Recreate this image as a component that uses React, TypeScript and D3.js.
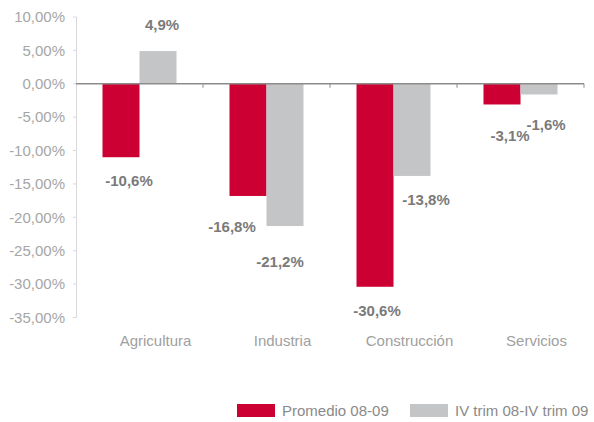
import * as d3 from "d3";

const categories = ["Agricultura", "Industria", "Construcción", "Servicios"];
const seriesNames = ["Promedio 08-09", "IV trim 08-IV trim 09"];
// bar lengths
const promedio = [-11.0, -16.8, -30.4, -3.1];
const ivTrim = [4.9, -21.3, -13.8, -1.6];
// printed data labels
const promedioLabels = ["-10,6%", "-16,8%", "-30,6%", "-3,1%"];
const ivTrimLabels = ["4,9%", "-21,2%", "-13,8%", "-1,6%"];
const yTicks = [10, 5, 0, -5, -10, -15, -20, -25, -30, -35];

const colors = ["#cc0033", "#c4c5c7"];
// hand placed label nudges (dx, dy) per series / category, as in the original
const labelNudges = [
  [[8, -4], [-16, 3], [2, -4], [8, 4]],
  [[4, 0], [-5, 8], [14, -4], [7, 3]],
];

const W = 594;
const H = 422;
const FONT = "'Liberation Sans', Arial, sans-serif";

const fmtTick = (v: number) => `${v.toFixed(2).replace(".", ",")}%`;

export default function App() {
  const y = d3.scaleLinear().domain([-35, 10]).range([317.5, 17]);
  const x = d3.scaleBand<string>().domain(categories).range([76, 584]).paddingInner(0).paddingOuter(0);
  const inner = d3.scaleBand<string>().domain(seriesNames).range([0, 74]);
  const offset = (x.bandwidth() - 74) / 2;
  const values = [promedio, ivTrim];
  const labels = [promedioLabels, ivTrimLabels];

  return (
    <svg
      width={W}
      height={H}
      style={{ position: "absolute", left: 0, top: 0, background: "white", fontFamily: FONT }}
    >
      {/* left axis */}
      <line x1={76.5} x2={76.5} y1={y(10)} y2={y(-35)} stroke="#d9d9d9" />
      {yTicks.map((t) => (
        <g key={t}>
          <line x1={73} x2={76.5} y1={y(t)} y2={y(t)} stroke="#d9d9d9" />
          <text
            x={65}
            y={y(t)}
            dy="0.35em"
            textAnchor="end"
            fontSize={15}
            fill="#a6a6a6"
          >
            {fmtTick(t)}
          </text>
        </g>
      ))}

      {/* bars */}
      {values.map((vals, s) =>
        vals.map((v, i) => {
          const bx = (x(categories[i]) ?? 0) + offset + (inner(seriesNames[s]) ?? 0);
          return (
            <rect
              key={`${s}-${i}`}
              x={bx}
              y={Math.min(y(v), y(0))}
              width={inner.bandwidth()}
              height={Math.abs(y(v) - y(0))}
              fill={colors[s]}
            />
          );
        })
      )}

      {/* zero line */}
      <line x1={76} x2={584} y1={y(0)} y2={y(0)} stroke="#8c8c8c" strokeWidth={1.6} />
      {categories.map((c) => (
        <line
          key={c}
          x1={(x(c) ?? 0) + x.bandwidth()}
          x2={(x(c) ?? 0) + x.bandwidth()}
          y1={y(0)}
          y2={y(0) + 4}
          stroke="#8c8c8c"
        />
      ))}

      {/* data labels */}
      {values.map((vals, s) =>
        vals.map((v, i) => {
          const cx = (x(categories[i]) ?? 0) + offset + (inner(seriesNames[s]) ?? 0) + inner.bandwidth() / 2;
          const [dx, dy] = labelNudges[s][i];
          const ly = v >= 0 ? y(v) - 21 : y(v) + 33;
          return (
            <text
              key={`l${s}-${i}`}
              x={cx + dx}
              y={ly + dy}
              textAnchor="middle"
              fontSize={15}
              fontWeight="bold"
              fill="#7a7a7a"
            >
              {labels[s][i]}
            </text>
          );
        })
      )}

      {/* category labels */}
      {categories.map((c) => (
        <text
          key={c}
          x={(x(c) ?? 0) + x.bandwidth() / 2 + 16}
          y={346}
          textAnchor="middle"
          fontSize={15}
          fill="#a0a0a0"
        >
          {c}
        </text>
      ))}

      {/* legend */}
      {seriesNames.map((n, s) => {
        const lx = s === 0 ? 237 : 410;
        return (
          <g key={n}>
            <rect x={lx} y={404} width={38} height={13} fill={colors[s]} />
            <text x={lx + 45} y={416} fontSize={15} fill="#8a8a8a">
              {n}
            </text>
          </g>
        );
      })}
    </svg>
  );
}
